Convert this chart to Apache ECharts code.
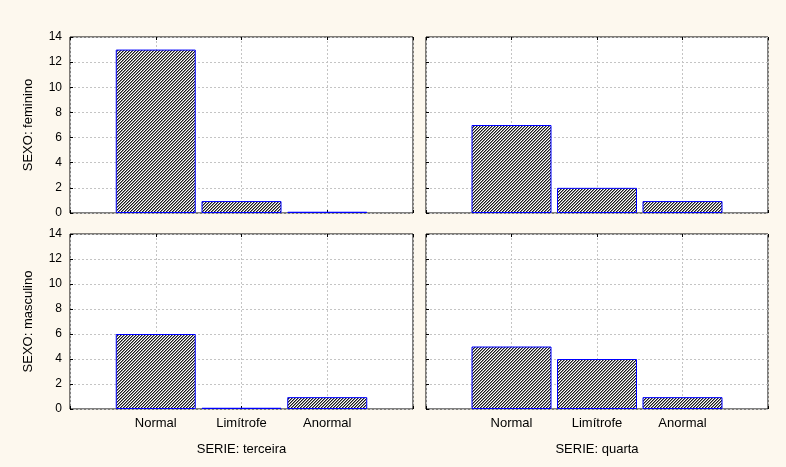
<!DOCTYPE html>
<html>
<head>
<meta charset="utf-8">
<script src="https://cdn.jsdelivr.net/npm/echarts@6/dist/echarts.min.js"></script>
<style>
html,body{margin:0;padding:0;background:#fdf8ee;}
#c{width:786px;height:467px;}
</style>
</head>
<body>
<div id="c"></div>
<script>
const categories = ['Normal', 'Limítrofe', 'Anormal'];
const yTickMax = 14;
const yTickStep = 2;
const femTerceira = [13, 0.95, 0.1];
const femQuarta = [7, 2, 0.95];
const mascTerceira = [6, 0.1, 0.95];
const mascQuarta = [5, 4, 0.95];
const rowTitles = ['SEXO: feminino', 'SEXO: masculino'];
const colTitles = ['SERIE: terceira', 'SERIE: quarta'];

// hatch pattern (fine diagonal)
const pc = document.createElement('canvas');
pc.width = 3; pc.height = 3;
const px = pc.getContext('2d');
px.fillStyle = '#ffffff'; px.fillRect(0, 0, 3, 3);
for (let i = 0; i < 3; i++) {
  px.fillStyle = '#1a1a1a';
  px.fillRect((2 - i + 3) % 3, i, 1, 1);
  px.fillStyle = '#8a8a8a';
  px.fillRect((3 - i + 3) % 3, i, 1, 1);
}
const hatch = { image: pc, repeat: 'repeat' };

const panels = [
  { data: femTerceira, left: 70, top: 37, width: 343, height: 176, row: 0, col: 0 },
  { data: femQuarta, left: 426, top: 37, width: 342, height: 176, row: 0, col: 1 },
  { data: mascTerceira, left: 70, top: 234, width: 343, height: 175, row: 1, col: 0 },
  { data: mascQuarta, left: 426, top: 234, width: 342, height: 175, row: 1, col: 1 }
];

const font = 'Liberation Sans, Arial, sans-serif';
const grid = [], xAxis = [], yAxis = [], series = [];
panels.forEach((p, i) => {
  grid.push({
    left: p.left, top: p.top, width: p.width, height: p.height,
    show: true, backgroundColor: '#ffffff', borderColor: '#000000', borderWidth: 1,
    containLabel: false
  });
  const isBottom = p.row === 1;
  xAxis.push({
    type: 'value', gridIndex: i, min: 0, max: categories.length + 1, interval: 1,
    axisLine: { show: false },
    axisTick: { show: true, inside: true, length: 3, lineStyle: { color: '#000' } },
    axisLabel: {
      show: isBottom, margin: 8, color: '#000', fontSize: 13, fontFamily: font,
      formatter: v => categories[v - 1] || ''
    },
    splitLine: { show: true, lineStyle: { color: '#c4c4c4', type: [2, 2], width: 1 } },
    name: isBottom ? colTitles[p.col] : '',
    nameLocation: 'middle', nameGap: 34,
    nameTextStyle: { color: '#000', fontSize: 13, fontFamily: font }
  });
  // top ticks
  xAxis.push({
    type: 'value', gridIndex: i, position: 'top', min: 0, max: categories.length + 1, interval: 1,
    axisLine: { show: false },
    axisTick: { show: true, inside: true, length: 3, lineStyle: { color: '#000' } },
    axisLabel: { show: false }, splitLine: { show: false }
  });
  yAxis.push({
    type: 'value', gridIndex: i, min: 0, max: yTickMax, interval: yTickStep,
    axisLine: { show: false },
    axisTick: { show: true, inside: true, length: 3, lineStyle: { color: '#000' } },
    axisLabel: { show: p.col === 0, margin: 8, color: '#000', fontSize: 12, fontFamily: font },
    splitLine: { show: true, lineStyle: { color: '#c4c4c4', type: [2, 2], width: 1 } },
    name: p.col === 0 ? rowTitles[p.row] : '',
    nameLocation: 'middle', nameGap: 35, nameRotate: 90,
    nameTextStyle: { color: '#000', fontSize: 13, fontFamily: font }
  });
  series.push({
    type: 'bar', xAxisIndex: i * 2, yAxisIndex: i, barWidth: 80,
    data: p.data.map((v, k) => [k + 1, v]),
    itemStyle: { color: hatch, borderColor: '#0000ff', borderWidth: 1 },
    silent: true
  });
});

const chart = echarts.init(document.getElementById('c'), null, { renderer: 'canvas' });
chart.setOption({
  backgroundColor: '#fdf8ee',
  animation: false,
  grid, xAxis, yAxis, series
});
</script>
</body>
</html>
